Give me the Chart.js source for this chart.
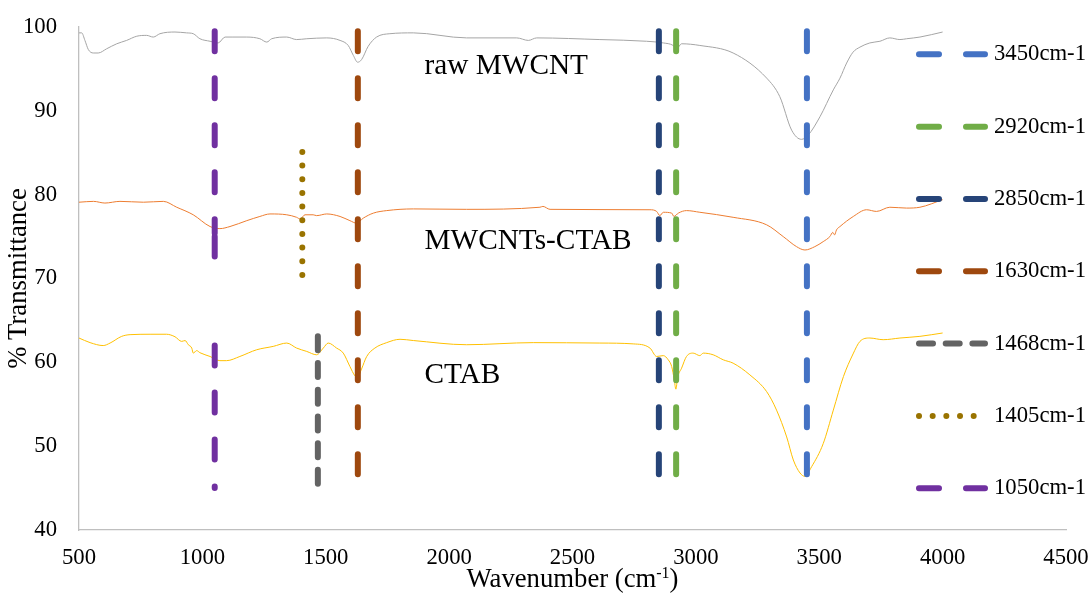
<!DOCTYPE html>
<html>
<head>
<meta charset="utf-8">
<script src="https://cdn.jsdelivr.net/npm/chart.js@4/dist/chart.umd.min.js"></script>
<style>
  html, body { margin: 0; padding: 0; background: #ffffff; }
  canvas { display: block; }
</style>
</head>
<body>
<canvas id="ftir" width="1092" height="596"></canvas>
<script>
// ---- FTIR spectra: wavenumber (cm-1) and % transmittance ----
const rawWavenumber = [500, 511, 524, 538, 558, 578, 612, 653, 693, 734, 774, 801, 828, 889, 936, 963, 990, 1031, 1064, 1092, 1124, 1180, 1233, 1261, 1281, 1342, 1382, 1423, 1504, 1558, 1591, 1612, 1629, 1645, 1672, 1706, 1760, 1855, 2071, 2274, 2321, 2355, 2611, 2800, 2868, 2908, 2922, 2942, 3016, 3151, 3287, 3340, 3388, 3428, 3455, 3503, 3557, 3584, 3611, 3637, 3665, 3705, 3746, 3786, 3827, 3854, 3908, 4000];
const rawTransmittance = [99.3, 99.3, 98.4, 97.3, 96.9, 96.9, 97.4, 98.0, 98.4, 98.9, 99.0, 98.8, 99.2, 99.4, 99.3, 99.2, 98.6, 98.3, 98.1, 98.8, 98.8, 98.8, 98.6, 98.2, 98.6, 98.8, 98.5, 98.6, 98.7, 98.4, 97.8, 96.6, 95.8, 96.1, 97.7, 98.8, 99.2, 99.3, 98.7, 98.7, 98.4, 98.7, 98.5, 98.3, 98.1, 97.8, 97.4, 98.0, 97.8, 96.9, 93.9, 91.7, 87.7, 86.6, 87.1, 89.3, 92.5, 93.9, 95.7, 97.0, 97.6, 98.1, 98.3, 98.7, 98.5, 98.6, 98.8, 99.4];

const mixWavenumber = [500, 559, 605, 666, 761, 842, 896, 963, 1031, 1071, 1112, 1180, 1233, 1274, 1342, 1382, 1396, 1416, 1449, 1463, 1504, 1558, 1598, 1625, 1652, 1693, 1747, 1855, 2071, 2368, 2380, 2409, 2814, 2841, 2854, 2868, 2902, 2911, 2929, 2962, 3016, 3151, 3287, 3354, 3408, 3442, 3482, 3516, 3543, 3555, 3562, 3570, 3584, 3638, 3692, 3732, 3786, 3854, 3908, 4000];
const mixTransmittance = [79.1, 79.2, 79.0, 79.2, 79.1, 79.2, 78.5, 77.6, 76.2, 75.95, 76.2, 76.9, 77.4, 77.7, 77.6, 77.3, 77.1, 77.6, 77.6, 77.5, 77.7, 77.4, 76.9, 76.6, 77.2, 77.8, 78.1, 78.3, 78.25, 78.5, 78.6, 78.25, 78.2, 78.0, 77.5, 77.9, 77.8, 77.4, 77.8, 78.1, 77.9, 77.3, 76.4, 75.0, 73.8, 73.4, 73.8, 74.4, 75.0, 75.5, 75.2, 75.8, 76.2, 77.4, 78.2, 78.0, 78.5, 78.4, 78.5, 79.4];

const ctabWavenumber = [500, 545, 598, 626, 673, 707, 788, 855, 889, 916, 930, 943, 957, 963, 977, 990, 1031, 1071, 1098, 1152, 1220, 1287, 1342, 1382, 1423, 1463, 1490, 1510, 1544, 1571, 1598, 1618, 1629, 1645, 1666, 1699, 1747, 1801, 1855, 2071, 2341, 2611, 2746, 2814, 2841, 2868, 2888, 2902, 2912, 2919, 2926, 2942, 2962, 2989, 3016, 3030, 3070, 3111, 3151, 3219, 3287, 3327, 3368, 3395, 3422, 3442, 3469, 3516, 3557, 3598, 3637, 3665, 3705, 3759, 3827, 3908, 4000];
const ctabTransmittance = [62.9, 62.35, 62.0, 62.3, 63.1, 63.3, 63.35, 63.35, 63.05, 62.5, 62.6, 62.1, 61.7, 61.1, 61.4, 61.15, 60.7, 60.2, 60.2, 60.7, 61.5, 61.9, 62.3, 61.7, 61.3, 60.9, 61.7, 62.3, 61.7, 61.1, 59.5, 58.4, 58.2, 59.2, 60.7, 61.7, 62.35, 62.75, 62.6, 62.1, 62.35, 62.3, 62.2, 61.7, 60.7, 60.8, 60.3, 59.5, 58.0, 56.8, 58.2, 59.3, 60.7, 61.1, 60.8, 61.1, 60.9, 60.3, 59.9, 58.5, 56.5, 54.3, 51.1, 48.35, 46.8, 46.4, 47.55, 50.3, 54.3, 58.3, 61.0, 62.5, 62.9, 62.7, 62.9, 63.1, 63.5];

// ---- Band assignments: marker lines at characteristic wavenumbers ----
const peakLabels = ['3450cm-1', '2920cm-1', '2850cm-1', '1630cm-1', '1468cm-1', '1405cm-1', '1050cm-1'];
const peakWavenumbers = [3450, 2920, 2850, 1630, 1468, 1405, 1050];
// vertical extent of each marker, as [upper, lower] transmittance pairs
const peakSpans = [
  [[99.5, 46.5]],
  [[99.5, 46.5]],
  [[99.5, 46.5]],
  [[99.5, 46.5]],
  [[63.1, 45.5]],
  [[85.1, 70.3]],
  [[99.5, 75.4], [75.0, 72.6], [62.0, 45.0]]
];

// ---- axis ticks ----
const xTicks = [500, 1000, 1500, 2000, 2500, 3000, 3500, 4000, 4500];
const yTicks = [40, 50, 60, 70, 80, 90, 100];

// ---- styling ----
const serif = "'Liberation Serif', 'Times New Roman', serif";
const longDash = [20, 27];
const peakColors = ['#4472C4', '#70AD47', '#264478', '#9E480E', '#636363', '#997300', '#7030A0'];
const peakDashes = [longDash, longDash, longDash, longDash, [14, 12.7], [0.01, 13.66], longDash];

const toPoints = (xs, ys) => xs.map((v, i) => ({ x: v, y: ys[i] }));

function markerPoints(wn, spans) {
  const pts = [];
  spans.forEach((s, i) => {
    if (i > 0) pts.push({ x: wn, y: null });
    pts.push({ x: wn, y: s[0] }, { x: wn, y: s[1] });
  });
  return pts;
}

const spectrum = (label, xs, ys, color) => ({
  label, data: toPoints(xs, ys), borderColor: color, borderWidth: 1,
  pointRadius: 0, cubicInterpolationMode: 'monotone', fill: false, order: 20
});

const datasets = [
  spectrum('raw MWCNT', rawWavenumber, rawTransmittance, '#A5A5A5'),
  spectrum('MWCNTs-CTAB', mixWavenumber, mixTransmittance, '#ED7D31'),
  spectrum('CTAB', ctabWavenumber, ctabTransmittance, '#FFC000')
];
peakLabels.forEach((lab, i) => {
  datasets.push({
    label: lab, peak: true,
    data: markerPoints(peakWavenumbers[i], peakSpans[i]),
    borderColor: peakColors[i], borderWidth: 6, borderDash: peakDashes[i],
    borderCapStyle: 'round', pointRadius: 0, tension: 0, spanGaps: false,
    fill: false, order: 1 + i
  });
});

// sample names written beside each trace: [text, wavenumber, transmittance at baseline]
const traceNames = [
  ['raw MWCNT', 1900, 94.4],
  ['MWCNTs-CTAB', 1900, 73.5],
  ['CTAB', 1900, 57.5]
];

const traceNamePlugin = {
  id: 'traceNames',
  afterDatasetsDraw(chart) {
    const { ctx, scales: { x, y } } = chart;
    ctx.save();
    ctx.fillStyle = '#000000';
    ctx.font = `29.3px ${serif}`;
    ctx.textAlign = 'left';
    ctx.textBaseline = 'alphabetic';
    traceNames.forEach(([t, wx, wy]) => ctx.fillText(t, x.getPixelForValue(wx), y.getPixelForValue(wy)));
    ctx.restore();
  }
};

const peakLegendPlugin = {
  id: 'peakLegend',
  afterDraw(chart) {
    const ctx = chart.ctx;
    const lineStart = 919, lineEnd = 985, textX = 994, firstRow = 54.3, rowGap = 72.33;
    ctx.save();
    chart.data.datasets.filter(d => d.peak).forEach((ds, i) => {
      const rowY = firstRow + i * rowGap;
      ctx.beginPath();
      ctx.strokeStyle = ds.borderColor;
      ctx.lineWidth = ds.borderWidth;
      ctx.lineCap = 'round';
      ctx.setLineDash(ds.borderDash);
      ctx.moveTo(lineStart, rowY);
      ctx.lineTo(lineEnd, rowY);
      ctx.stroke();
      ctx.setLineDash([]);
      ctx.fillStyle = '#000000';
      ctx.font = `22.7px ${serif}`;
      ctx.textAlign = 'left';
      ctx.textBaseline = 'middle';
      ctx.fillText(ds.label, textX, rowY);
    });
    ctx.restore();
  }
};

// x-axis title with a superscript exponent
const xTitlePlugin = {
  id: 'xTitle',
  afterDraw(chart) {
    const { ctx, chartArea } = chart;
    const main = 'Wavenumber (cm', sup = '-1', close = ')';
    const big = `26.7px ${serif}`, small = `16px ${serif}`;
    const baseY = 587;
    ctx.save();
    ctx.fillStyle = '#000000';
    ctx.textBaseline = 'alphabetic';
    ctx.textAlign = 'left';
    ctx.font = big;
    const wMain = ctx.measureText(main).width, wClose = ctx.measureText(close).width;
    ctx.font = small;
    const wSup = ctx.measureText(sup).width;
    let cx = (chartArea.left + chartArea.right) / 2 - (wMain + wSup + wClose) / 2;
    ctx.font = big;
    ctx.fillText(main, cx, baseY);
    cx += wMain;
    ctx.font = small;
    ctx.fillText(sup, cx, baseY - 9);
    cx += wSup;
    ctx.font = big;
    ctx.fillText(close, cx, baseY);
    ctx.restore();
  }
};

new Chart(document.getElementById('ftir'), {
  type: 'line',
  data: { datasets },
  options: {
    responsive: false,
    animation: false,
    devicePixelRatio: 1,
    events: [],
    layout: { padding: { left: 0, right: 26, top: 27, bottom: 0 } },
    plugins: { legend: { display: false }, tooltip: { enabled: false } },
    scales: {
      x: {
        type: 'linear', min: xTicks[0], max: xTicks[xTicks.length - 1],
        afterFit: s => { s.height = 66; s.paddingLeft = 0; s.paddingRight = 0; },
        afterBuildTicks: s => { s.ticks = xTicks.map(v => ({ value: v })); },
        grid: { display: false, drawTicks: false },
        border: { display: true, color: '#BFBFBF', width: 1.3 },
        ticks: {
          padding: 14, maxRotation: 0, autoSkip: false,
          color: '#000000', font: { family: serif, size: 22.7 },
          callback: v => String(v)
        },
        title: { display: false }
      },
      y: {
        type: 'linear', min: yTicks[0], max: yTicks[yTicks.length - 1],
        afterFit: s => { s.width = 79; s.paddingTop = 0; s.paddingBottom = 0; },
        afterBuildTicks: s => { s.ticks = yTicks.map(v => ({ value: v })); },
        grid: { display: false, drawTicks: false },
        border: { display: true, color: '#BFBFBF', width: 1.3 },
        ticks: {
          padding: 22, color: '#000000', font: { family: serif, size: 22.7 },
          callback: v => String(v)
        },
        title: {
          display: true, text: '% Transmittance', color: '#000000',
          font: { family: serif, size: 26.7 }, padding: { top: 3, bottom: 0 }
        }
      }
    }
  },
  plugins: [traceNamePlugin, peakLegendPlugin, xTitlePlugin]
});
</script>
</body>
</html>
